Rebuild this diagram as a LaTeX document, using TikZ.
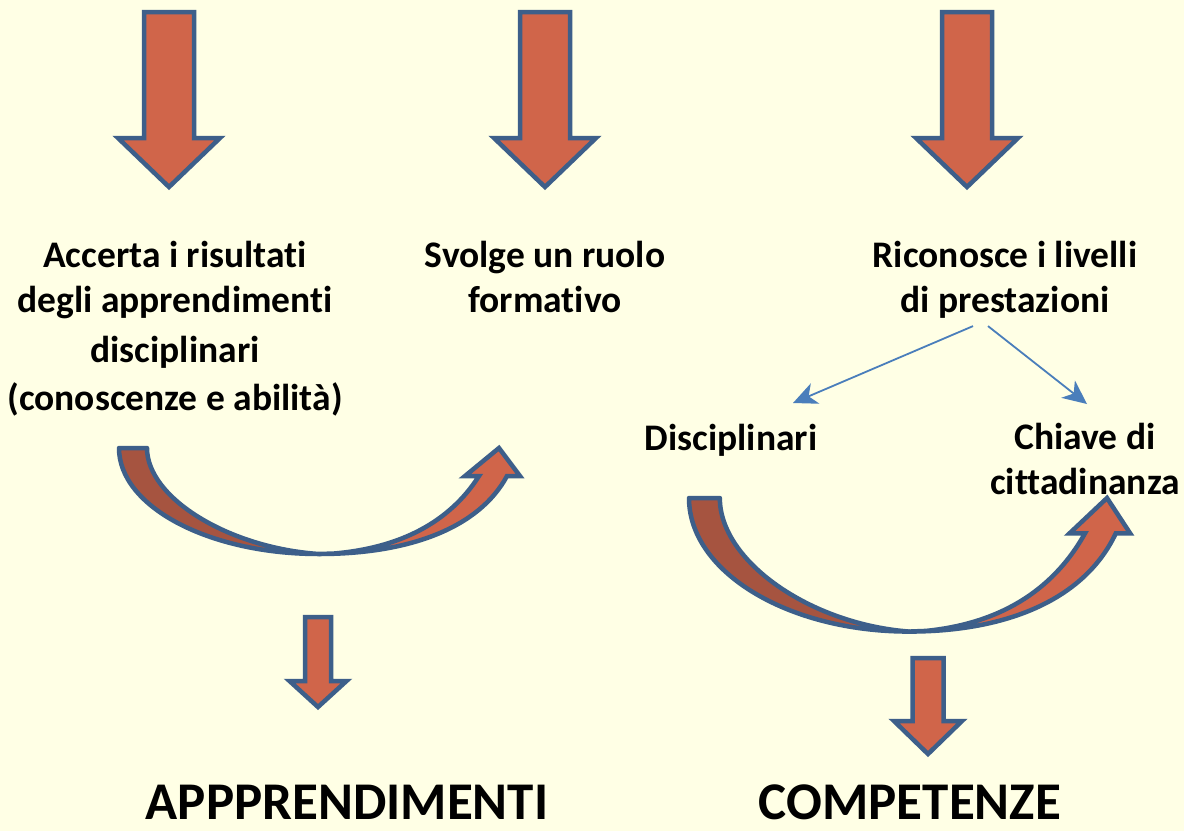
\documentclass[tikz,border=0pt]{standalone}
\usepackage{fontspec}
\setmainfont{Carlito}[Ligatures=NoCommon]
\usepackage{tikz}
\usetikzlibrary{arrows.meta,calc,positioning}
\definecolor{pagebg}{RGB}{255,255,229}
\definecolor{coral}{RGB}{208,101,74}
\definecolor{coraldark}{RGB}{166,84,64}
\definecolor{rim}{RGB}{61,95,138}
\definecolor{linkblue}{RGB}{74,126,187}
\tikzset{
  bigArrow/.style={fill=coral, draw=rim, line width=4.5pt, line join=miter},
  bandDark/.style={fill=coraldark, draw=rim, line width=4.5pt, line join=round},
  bandLight/.style={fill=coral, draw=rim, line width=4.5pt, line join=miter},
  linkArrow/.style={draw=linkblue, line width=1.8pt, -{Stealth[length=24pt,width=22pt,inset=7pt]}},
  label/.style={font=\bfseries\fontsize{37.5}{45}\selectfont, align=center, inner sep=0pt},
  title/.style={font=\bfseries\fontsize{53}{60}\selectfont, inner sep=0pt}
}
% down arrow: centre x, top, shaft half width, head start, head half width, tip
\newcommand{\DownArrow}[6]{%
  \draw[bigArrow] ({#1-#3},#2) -- ({#1+#3},#2) -- ({#1+#3},#4) -- ({#1+#5},#4)
    -- (#1,#6) -- ({#1-#5},#4) -- ({#1-#3},#4) -- cycle;
}
% curved up arrow: origin (tail outer top), xscale, yscale
\newcommand{\CurveArrow}[4]{%
  \begin{scope}[shift={(#1,#2)}, xscale=#3, yscale=#4]
    \draw[bandDark] (0,0) -- (28,0) .. controls (28,50) and (110,100) .. (200,106)
      .. controls (89.5,106) and (0,58.5) .. (0,0) -- cycle;
    \draw[bandLight] (200,106) .. controls (290,106) and (360,80) .. (388,28)
      -- (401,28) -- (380,0) -- (346,28) -- (360,28)
      .. controls (330,75) and (280,100) .. (215,105.5) -- cycle;
  \end{scope}
}

\begin{document}
\begin{tikzpicture}[x=1pt, y=-1pt]
  \fill[pagebg] (0,0) rectangle (1184,831);
  \useasboundingbox (0,0) rectangle (1184,831);
  % top arrows
  \DownArrow{169}{12}{25}{138}{51}{187}
  \DownArrow{545}{12}{25}{138}{51}{187}
  \DownArrow{967}{12}{25}{138}{51}{187}
  % texts (base = baseline of last line)
  \node[label, anchor=base] (accerta) at (175,410)
    {Accerta i risultati\\degli apprendimenti\\[5pt]disciplinari\\[3pt](conoscenze e abilità)};
  \node[label, anchor=base] (svolge) at (545,312) {Svolge un ruolo\\formativo};
  \node[label, anchor=base] (ricon) at (1005,312) {Riconosce i livelli\\di prestazioni};
  \node[label, anchor=base] (disc) at (731,450) {Disciplinari};
  \node[label, anchor=base] (chiave) at (1085,494) {Chiave di\\cittadinanza};
  % links
  \coordinate (discTip) at (793,403);
  \coordinate (chiaveTip) at (1087,404);
  \draw[linkArrow] ([xshift=-32pt,yshift=-8pt]ricon.south) -- (discTip);
  \draw[linkArrow] ([xshift=-17pt,yshift=-8pt]ricon.south) -- (chiaveTip);
  % curved arrows
  \CurveArrow{119}{448}{1}{1}
  \CurveArrow{689}{498}{1.1}{1.26}
  % small arrows
  \DownArrow{318}{617}{13}{681}{28.5}{707}
  \DownArrow{928}{658}{15.5}{721}{34}{754}
  % results
  \node[title, anchor=base] (appr) at (347,819) {APPPRENDIMENTI};
  \node[title, anchor=base] (comp) at (910,819) {COMPETENZE};
\end{tikzpicture}
\end{document}
